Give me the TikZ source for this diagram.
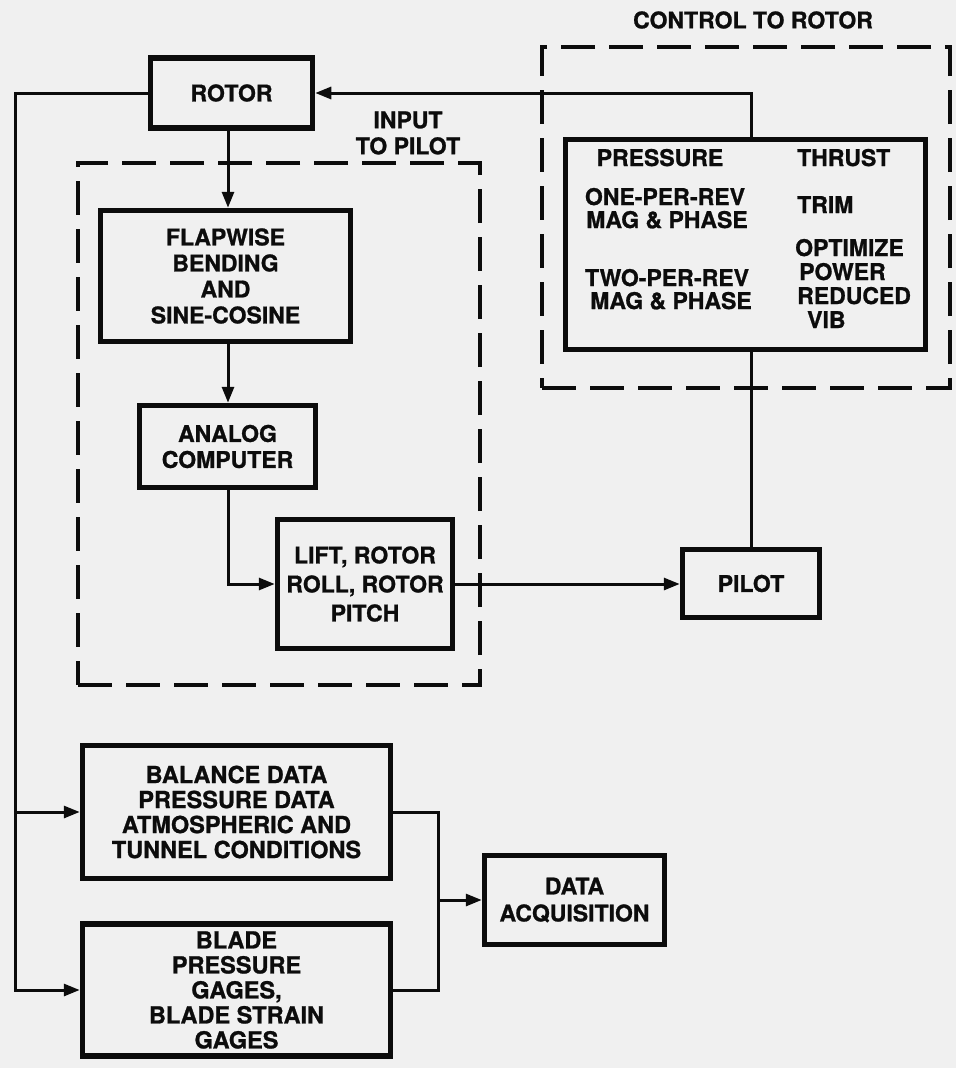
\documentclass[tikz,border=0pt]{standalone}
\usepackage{fontspec}
\setmainfont{TeX Gyre Heros}[BoldFeatures={FakeBold=1.0}]
\usetikzlibrary{arrows.meta}
\definecolor{paper}{RGB}{240,240,240}
\definecolor{ink}{RGB}{12,12,12}
\begin{document}
\begin{tikzpicture}[x=1pt,y=-1pt,
  font=\fontsize{23}{26}\selectfont\bfseries,
  box/.style={draw=ink, line width=5.5pt, inner sep=0pt, align=center, text=ink},
  frame/.style={draw=ink, line width=4.5pt, dash pattern=on 34pt off 14pt, inner sep=0pt},
  conn/.style={draw=ink, line width=3pt},
  arr/.style={conn, -{Triangle[length=16pt,width=12pt]}},
  lbl/.style={text=ink, inner sep=0pt, align=center}]
\fill[paper] (0,0) rectangle (956,1068);
\useasboundingbox (0,0) rectangle (956,1068);

% dashed group frames
\node[frame, minimum width=402pt, minimum height=522pt] (inpframe) at (279,424) {};
\node[frame, minimum width=408pt, minimum height=341pt] (ctrlframe) at (746,217.5) {};
\node[lbl] (inplbl) at (408,133) {INPUT\\TO PILOT};
\node[lbl] (ctrllbl) at (753,20) {CONTROL TO ROTOR};

% boxes
\node[box, minimum width=162pt, minimum height=70pt] (rotor) at (231.5,93) {ROTOR};
\node[box, minimum width=250pt, minimum height=131pt] (flap) at (225.5,276) {FLAPWISE\\BENDING\\AND\\SINE-COSINE};
\node[box, minimum width=176pt, minimum height=82pt] (analog) at (227.5,446.5) {ANALOG\\COMPUTER};
\node[box, minimum width=175pt, minimum height=129pt, font=\fontsize{23}{29}\selectfont\bfseries] (lift) at (365,584) {LIFT, ROTOR\\ROLL, ROTOR\\PITCH};
\node[box, minimum width=137pt, minimum height=68pt] (pilot) at (751,583.5) {PILOT};
\node[box, minimum width=360pt, minimum height=210pt] (ctrl) at (745.5,244.5) {};
\node[box, minimum width=308pt, minimum height=133pt, font=\fontsize{23.5}{25}\selectfont\bfseries] (balance) at (236.5,812) {BALANCE DATA\\PRESSURE DATA\\ATMOSPHERIC AND\\TUNNEL CONDITIONS};
\node[box, minimum width=308pt, minimum height=132pt, font=\fontsize{23.5}{25}\selectfont\bfseries] (blade) at (236.5,990) {BLADE\\PRESSURE\\GAGES,\\BLADE STRAIN\\GAGES};
\node[box, minimum width=180pt, minimum height=89pt, font=\fontsize{23}{27}\selectfont\bfseries] (data) at (574.5,900) {DATA\\ACQUISITION};

% text inside control box
\node[lbl, anchor=base] (t1) at (660,166) {PRESSURE};
\node[lbl, anchor=base] (t2) at (665,205) {ONE-PER-REV};
\node[lbl, anchor=base] (t3) at (667,228) {MAG \& PHASE};
\node[lbl, anchor=base] (t4) at (667,286) {TWO-PER-REV};
\node[lbl, anchor=base] (t5) at (671,309) {MAG \& PHASE};
\node[lbl, anchor=base west] (r1) at (797,166) {THRUST};
\node[lbl, anchor=base west] (r2) at (797,213) {TRIM};
\node[lbl, anchor=base west] (r3) at (795,256) {OPTIMIZE};
\node[lbl, anchor=base west] (r4) at (799,280) {POWER};
\node[lbl, anchor=base west] (r5) at (797,304) {REDUCED};
\node[lbl, anchor=base west] (r6) at (807,328) {VIB};

% helper coordinates
\coordinate (col) at (228,0);
\coordinate (lx) at (15,0);
\coordinate (rx) at (438,0);

% connectors
\draw[arr] (rotor.south -| col) -- (flap.north -| col);
\draw[arr] (flap.south -| col) -- (analog.north -| col);
\draw[arr] (analog.south -| col) |- (lift.west);
\draw[arr] (lift.east) -- (lift.east -| pilot.west);
\draw[conn] (pilot.north) -- (pilot.north |- ctrl.south);
\draw[arr] (pilot.north |- ctrl.north) |- (rotor.east);
\draw[arr] (rotor.west) -| (lx |- blade.west) -- (blade.west);
\draw[arr] (lx |- balance.west) -- (balance.west);
\draw[conn] (balance.east) -| (rx |- blade.east) -- (blade.east);
\draw[arr] (rx |- data.west) -- (data.west);
\end{tikzpicture}
\end{document}
